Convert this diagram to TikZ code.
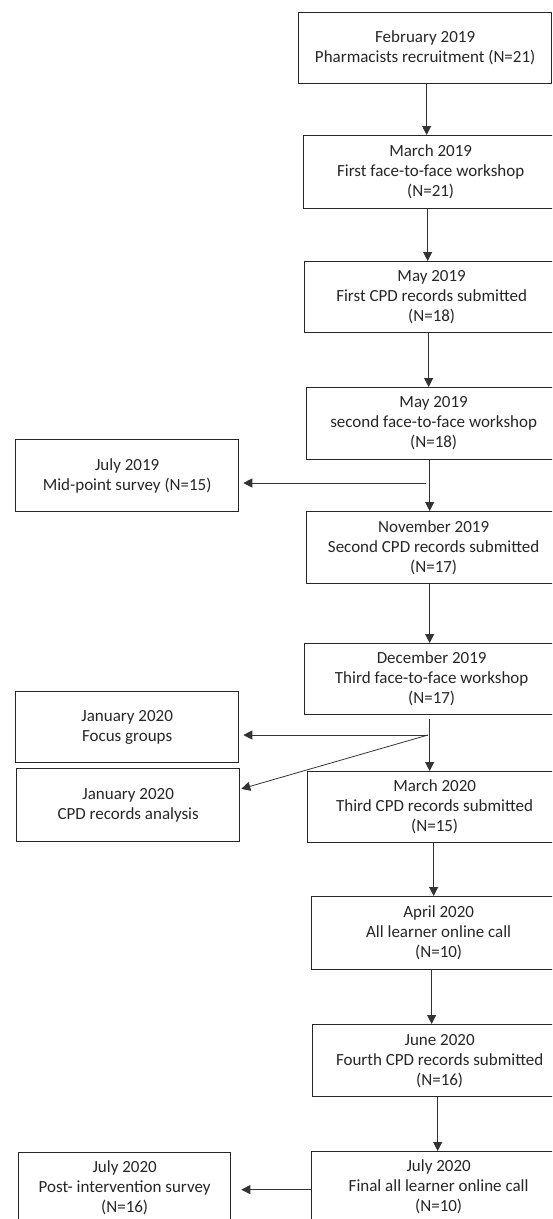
\documentclass[tikz,border=0pt]{standalone}
\usepackage{fontspec}
\setmainfont{Carlito}
\usetikzlibrary{arrows.meta}
\tikzset{
  stagebox/.style={draw=black!85, line width=1.3pt, align=center, anchor=north west,
    minimum width=254pt, minimum height=71pt, inner sep=0pt, text=black!85,
    font=\fontsize{17}{20}\selectfont},
  sidebox/.style={stagebox, minimum width=223pt},
  flow/.style={-{Triangle[length=9pt,width=9pt]}, line width=0.8pt, draw=black!80},
}
\begin{document}
\begin{tikzpicture}[x=1pt,y=-1pt]
      \useasboundingbox (0,0) rectangle (552,1219);
      \clip (0,0) rectangle (552,1219);

      % main column
      \node[stagebox, minimum width=253pt] (feb19) at (298,12) {February 2019\\Pharmacists recruitment (N=21)};
      \node[stagebox, minimum height=73pt] (mar19) at (303,135) {March 2019\\First face-to-face workshop\\(N=21)};
      \node[stagebox] (may19a) at (304,261) {May 2019\\First CPD records submitted\\(N=18)};
      \node[stagebox, minimum height=72pt] (may19b) at (306,387) {May 2019\\second face-to-face workshop\\(N=18)};
      \node[stagebox, minimum height=72pt] (nov19) at (306,511) {November 2019\\Second CPD records submitted\\(N=17)};
      \node[stagebox] (dec19) at (304,643) {December 2019\\Third face-to-face workshop\\(N=17)};
      \node[stagebox] (mar20) at (307,771) {March 2020\\Third CPD records submitted\\(N=15)};
      \node[stagebox, minimum height=73pt] (apr20) at (311,896) {April 2020\\All learner online call\\(N=10)};
      \node[stagebox, minimum height=72pt] (jun20) at (312,1024) {June 2020\\Fourth CPD records submitted\\(N=16)};
      \node[stagebox] (jul20b) at (311,1151) {July 2020\\Final all learner online call\\(N=10)};

      % side boxes
      \node[sidebox, minimum height=72pt] (midsurvey) at (15,439) {July 2019\\Mid-point survey (N=15)};
      \node[sidebox] (focus) at (15,691) {January 2020\\Focus groups};
      \node[sidebox, minimum height=73pt] (cpdanalysis) at (16,768) {January 2020\\CPD records analysis};
      \node[sidebox, minimum width=212pt] (postsurvey) at (18,1152) {July 2020\\Post- intervention survey\\(N=16)};

      % vertical arrows
      \draw[flow] ([xshift=1.5pt]feb19.south) -- ([xshift=1.5pt]feb19.south |- mar19.north);
      \draw[flow] ([xshift=-3pt]mar19.south) -- ([xshift=-3pt]mar19.south |- may19a.north);
      \draw[flow] ([xshift=-3pt]may19a.south) -- ([xshift=-3pt]may19a.south |- may19b.north);
      \draw[flow] ([xshift=-4pt]may19b.south) -- ([xshift=-4pt]may19b.south |- nov19.north);
      \draw[flow] ([xshift=-4pt]nov19.south) -- ([xshift=-4pt]nov19.south |- dec19.north);
      \draw[flow] ([xshift=-2pt,yshift=-4pt]dec19.south) -- ([xshift=-2pt]dec19.south |- mar20.north);
      \draw[flow] ([xshift=-1pt]mar20.south) -- ([xshift=-1pt]mar20.south |- apr20.north);
      \draw[flow] ([xshift=-7pt]apr20.south) -- ([xshift=-7pt]apr20.south |- jun20.north);
      \draw[flow] ([xshift=-2pt]jun20.south) -- ([xshift=-2pt]jun20.south |- jul20b.north);

      % side arrows
      \coordinate (split1) at (426,483);
      \coordinate (split2) at (428,735);
      \draw[flow, shorten >=4pt] (split1) -- (split1 -| midsurvey.east);
      \draw[flow, shorten >=4pt] (split2) -- (split2 -| focus.east);
      \draw[flow, shorten >=1pt] (split2) -- ([yshift=16pt]cpdanalysis.east);
      \draw[flow, shorten >=10pt] ([yshift=-2.5pt]jul20b.west) -- ([yshift=-2.5pt]jul20b.west -| postsurvey.east);
\end{tikzpicture}
\end{document}
